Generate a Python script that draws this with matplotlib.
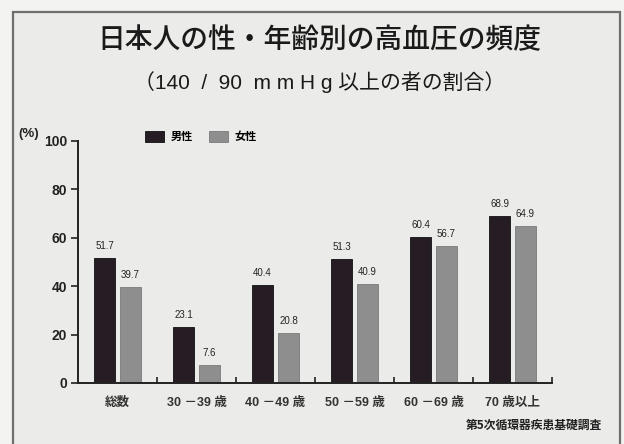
import matplotlib
matplotlib.use("Agg")
import matplotlib.pyplot as plt
from matplotlib.patches import Rectangle
import numpy as np

# data
categories = ["総数", "30 －39 歳", "40 －49 歳", "50 －59 歳", "60 －69 歳", "70 歳以上"]
male = [51.7, 23.1, 40.4, 51.3, 60.4, 68.9]
female = [39.7, 7.6, 20.8, 40.9, 56.7, 64.9]
series_names = ["男性", "女性"]
yticks = [0, 20, 40, 60, 80, 100]

title = "日本人の性・年齢別の高血圧の頻度"
subtitle = "（140  /  90  m m H g 以上の者の割合）"
source = "第5次循環器疾患基礎調査"

male_color = "#261d24"
female_color = "#8e8e8e"
bg_out = "#f3f3f1"
bg_in = "#ebebe9"

fonts = ["Liberation Sans", "Noto Sans CJK JP"]
plt.rcParams["font.family"] = fonts

W, H = 624, 444
fig = plt.figure(figsize=(W / 100, H / 100), dpi=100)
fig.patch.set_facecolor(bg_out)

# framed panel
fig.patches.append(Rectangle((13 / W, -0.1), (620 - 13) / W, 1.1 - 12 / H,
                             transform=fig.transFigure, facecolor=bg_in,
                             edgecolor="#6f6f6f", linewidth=1.6, zorder=-5))

fig.text(319 / W, 1 - 40 / H, title, ha="center", va="center",
         fontsize=20, family=["Noto Sans CJK JP"], weight="medium", color="#1a1a1a")
fig.text(320 / W, 1 - 82 / H, subtitle, ha="center", va="center",
         fontsize=15, color="#1a1a1a")
fig.text(602 / W, 1 - 425 / H, source, ha="right", va="center",
         fontsize=8.5, family=["Noto Sans CJK JP"], weight="bold", color="#222222")
fig.text(29 / W, 1 - 134 / H, "(%)", ha="center", va="center",
         fontsize=9.5, weight="bold", color="#222222")

ax = fig.add_axes([78 / W, 1 - 383 / H, (552 - 78) / W, (383 - 141) / H])
ax.set_facecolor("none")
ax.set_zorder(2)

x = np.arange(len(categories))
bw = 0.265
off = 0.164
bm = ax.bar(x - off, male, bw, color=male_color, edgecolor="#111111", linewidth=0.6,
            label=series_names[0])
bf = ax.bar(x + off, female, bw, color=female_color, edgecolor="#7a7a7a", linewidth=0.6,
            label=series_names[1])

for bars in (bm, bf):
    for b in bars:
        ax.annotate(f"{b.get_height():.1f}", (b.get_x() + b.get_width() / 2, b.get_height()),
                    xytext=(0, 5), textcoords="offset points", ha="center", va="bottom",
                    fontsize=7, color="#222222")

ax.set_xlim(-0.5, len(categories) - 0.5)
ax.set_ylim(0, 100)
ax.set_yticks(yticks)
ax.set_yticklabels([str(t) for t in yticks], fontsize=10, weight="bold", color="#222222")
ax.tick_params(axis="y", direction="out", length=5, width=1.2, pad=3, color="#222222")

ax.set_xticks(x)
ax.set_xticklabels(categories, fontsize=9, weight="bold", color="#333333")
ax.tick_params(axis="x", which="major", length=0, pad=10)
ax.set_xticks(np.arange(len(categories)) + 0.5, minor=True)
ax.tick_params(axis="x", which="minor", direction="in", length=4, width=1.2, color="#222222")

for s in ("top", "right"):
    ax.spines[s].set_visible(False)
for s in ("left", "bottom"):
    ax.spines[s].set_linewidth(1.4)
    ax.spines[s].set_color("#222222")

leg = ax.legend(loc="upper left", bbox_to_anchor=(0.12, 1.085), ncol=2, frameon=False,
                handlelength=1.7, handleheight=1.1, columnspacing=1.5, handletextpad=0.6,
                prop={"family": ["Noto Sans CJK JP"], "size": 8, "weight": "bold"})

fig.savefig("out.png", dpi=100, facecolor=fig.get_facecolor())
